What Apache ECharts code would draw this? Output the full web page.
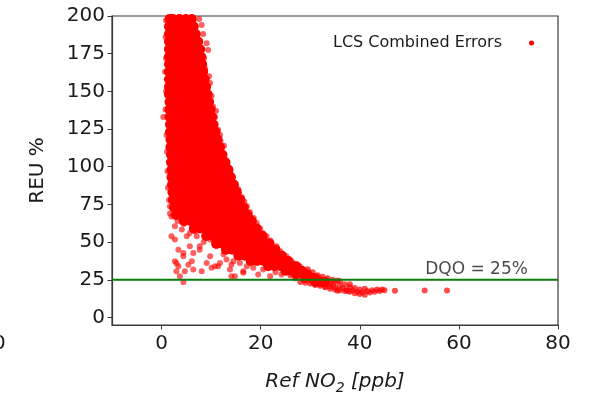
<!DOCTYPE html>
<html>
<head>
<meta charset="utf-8">
<script src="https://cdn.jsdelivr.net/npm/echarts@6/dist/echarts.min.js"></script>
<style>html,body{margin:0;padding:0;background:#fff}#c{width:595px;height:395px}</style>
</head>
<body>
<div id="c"></div>
<script>
const seriesName = 'LCS Combined Errors';
const xTicks = [0, 20, 40, 60, 80];
const yTicks = [0, 25, 50, 75, 100, 125, 150, 175, 200];
const dqoValue = 25;
const dqoLabel = 'DQO = 25%';
const dqoLabelX = 53.2;

// dense core of the cloud: [REU %, [Ref NO2 values]]
const coreRows = [
  [203, [1.6, 2.9, 4.2, 5.5, 5.9]],
  [198, [1.6, 2.3, 3.6, 4.9, 6.1]],
  [193, [1.5, 2.8, 4.1, 5.4, 6.5]],
  [188, [1.5, 2.2, 3.5, 4.8, 6.1, 6.9]],
  [183, [1.5, 2.8, 4.1, 5.4, 6.7, 7.4]],
  [178, [1.5, 2.2, 3.5, 4.8, 6.1, 7.4, 7.8]],
  [173, [1.5, 2.8, 4.1, 5.4, 6.7, 8.0]],
  [168, [1.5, 2.2, 3.5, 4.8, 6.1, 7.4, 8.2]],
  [163, [1.5, 2.8, 4.1, 5.4, 6.7, 8.0, 8.4]],
  [158, [1.5, 2.2, 3.5, 4.8, 6.1, 7.4, 8.7]],
  [153, [1.5, 2.8, 4.1, 5.4, 6.7, 8.0, 9.0]],
  [148, [1.5, 2.2, 3.5, 4.8, 6.1, 7.4, 8.7, 9.3]],
  [143, [1.6, 2.9, 4.2, 5.5, 6.8, 8.1, 9.4, 9.6]],
  [138, [1.6, 2.3, 3.6, 4.9, 6.2, 7.5, 8.8, 9.9]],
  [133, [1.6, 2.9, 4.2, 5.5, 6.8, 8.1, 9.4, 10.2]],
  [128, [1.7, 2.4, 3.7, 5.0, 6.3, 7.6, 8.9, 10.2, 10.5]],
  [123, [1.7, 3.0, 4.3, 5.6, 6.9, 8.2, 9.5, 10.8, 10.9]],
  [118, [1.8, 2.5, 3.8, 5.1, 6.4, 7.7, 9.0, 10.3, 11.3]],
  [113, [1.8, 3.1, 4.4, 5.7, 7.0, 8.3, 9.6, 10.9, 11.8]],
  [108, [1.9, 2.6, 3.9, 5.2, 6.5, 7.8, 9.1, 10.4, 11.7, 12.3]],
  [103, [1.9, 3.2, 4.5, 5.8, 7.1, 8.4, 9.7, 11.0, 12.3, 12.9]],
  [98, [2.0, 2.7, 4.0, 5.3, 6.6, 7.9, 9.2, 10.5, 11.8, 13.1, 13.5]],
  [93, [2.0, 3.3, 4.6, 5.9, 7.2, 8.5, 9.8, 11.1, 12.4, 13.7, 14.0]],
  [88, [2.1, 2.8, 4.1, 5.4, 6.7, 8.0, 9.3, 10.6, 11.9, 13.2, 14.5, 14.6]],
  [83, [2.2, 3.5, 4.8, 6.1, 7.4, 8.7, 10.0, 11.3, 12.6, 13.9, 15.2]],
  [78, [2.3, 3.0, 4.3, 5.6, 6.9, 8.2, 9.5, 10.8, 12.1, 13.4, 14.7, 15.9]],
  [73, [2.5, 3.8, 5.1, 6.4, 7.7, 9.0, 10.3, 11.6, 12.9, 14.2, 15.5, 16.6]],
  [68, [2.9, 3.6, 4.9, 6.2, 7.5, 8.8, 10.1, 11.4, 12.7, 14.0, 15.3, 16.6, 17.4]],
  [64, [4.5, 5.8, 7.1, 8.4, 9.7, 11.0, 12.3, 13.6, 14.9, 16.2, 17.5, 18.2]],
  [59, [6.5, 7.8, 9.1, 10.4, 11.7, 13.0, 14.3, 15.6, 16.9, 18.2, 19.2]],
  [54, [9.0, 10.3, 11.6, 12.9, 14.2, 15.5, 16.8, 18.1, 19.4, 20.4]],
  [49, [11.0, 12.3, 13.6, 14.9, 16.2, 17.5, 18.8, 20.1, 21.4, 21.8]],
  [45, [13.0, 14.3, 15.6, 16.9, 18.2, 19.5, 20.8, 22.1, 23.0]],
  [41, [15.5, 16.8, 18.1, 19.4, 20.7, 22.0, 23.3, 24.3]],
  [37.5, [18.0, 19.3, 20.6, 21.9, 23.2, 24.5, 25.6]],
  [34, [21.5, 22.8, 24.1, 25.4, 26.7, 27.2]],
  [31, [25.0, 26.3, 27.6, 28.3]],
  [28.5, [27.2, 28.5, 29.5]],
  [26, [29.0, 30.3, 31.0]],
  [23.5, [31.0, 32.3, 33.0]]
];

// scattered points around the edges of the cloud: [Ref NO2, REU %]
const edgePoints = [
  [8.1,194],[9.1,182],[9.4,177.5],[8.8,165],[9.8,155.6],[9.0,151],[10.4,140],[10.8,133],[11.4,124.5],
  [11.8,121],[12.6,114],[12.5,107],[13.5,100],[14.8,89],[16.2,80],[17.2,73.7],[19.2,62.7],[21.2,53.8],
  [23.2,47.2],[25.2,40.6],[27.9,34],[30.6,27.4],[34.6,21.9],[37.3,18.5],[7.6,198],[8.4,188],[8.6,172],
  [9.6,160],[10.1,147],[11.0,137],[11.9,117],[13.0,104],[13.9,96],[14.3,93],[15.5,85],[16.7,77],
  [17.8,70],[18.6,66],[19.9,59],[20.4,56],[22.0,51],[24.0,44],[26.3,37],[29.0,31],[31.8,26],[33.0,24.5],
  [0.9,197],[0.8,186],[0.9,172],[0.7,163],[0.9,150],[0.35,133],[0.8,138],[1.0,121],[1.1,110],[1.2,97],
  [1.3,86],[1.5,78],[1.7,73.7],[1.7,69],[2.0,67],
  [2.7,51.7],[3.4,45],[3.0,36],[3.7,27.4],[4.4,23.4],[5.4,35],[6.4,42.8],[7.7,45],[8.1,30.7],[9.8,40.6],
  [10.8,34],[11.1,47.2],[14.1,27.4],[14.8,27.4],[16.5,29.6],[19.5,28.5],[20.5,31.8],[21.9,27.4],[14.1,35],
  [13.1,38.4],[7.1,53.8],[5.1,53.8],[4.1,58.3],[2.7,60.5],[2.0,53.8],[2.7,37.3],[3.0,30.7],[4.7,30.7],
  [6.1,37.3],[10.1,32.9],[11.4,34],[13.8,31.8],[7.7,47.2],[9.8,51.7],[4.4,42.8],[5.7,56.1],[5.7,47.2],
  [4.4,40.6],[3.4,34],[6.4,31.8],[9.1,36.2],[11.8,36.2],[15.8,36.2],[17.2,34],[24.2,28.5],[14.5,37.3],
  [16.5,30.7],[7.7,60.5],[9.1,58.3],[3.2,64],[4.5,62],[6.8,57],[8.5,50],[12.5,42],[18.5,33],[23.0,30]
];

// thin tail of the cloud at high concentrations
const tailPoints = [
  [33,24],[34,22.5],[35,23.5],[36,21],[36.5,19.5],[37,22],[38,20],[38.5,18],[39,19.5],[39.5,17],
  [40,18.5],[40.5,16.5],[41,19],[41.5,17.5],[42,16.5],[42.5,18],[43,17],[43.5,18.5],[44,17.5],[44.5,18.5],
  [45,18],[40,15.5],[39,16],[37.5,17.5],[35,20],[34,20.5],[32,22],[33,20.5],[31,24],[30,25.5],[29,27],
  [36,24],[38,22],[35.5,17.8],[41,15],[47.1,17.8],[53.1,17.9],[57.6,17.9],
  [28,23.5],[29,23],[30,22.5],[31,21.5],[32,21],[33,20],[34,19],[35,18.5],[36,18],[37,17.5],[38,17],
  [30.5,30],[29.5,32],[31.5,28],[32.5,27],[33.5,26],[34.5,25],[35.5,24.5],[27,26],[26,28],[28.5,25.5]
];

const corePoints = coreRows.flatMap(([y, xs]) => xs.map(x => [x, y]));
const font = 'DejaVu Sans';
const txt = '#1a1a1a';
const axisColor = '#3a3a3a';

const chart = echarts.init(document.getElementById('c'), null, {renderer: 'canvas'});
chart.setOption({
  animation: false,
  backgroundColor: '#fff',
  textStyle: {fontFamily: font},
  grid: {left: 112, right: 37, top: 16, bottom: 70, containLabel: false, outerBoundsMode: 'none',
         show: true, borderColor: axisColor, borderWidth: 1.2},
  legend: {
    data: [seriesName], right: 56, top: 30, align: 'right',
    itemWidth: 5, itemHeight: 5, icon: 'circle',
    textStyle: {fontSize: 16, color: txt, fontFamily: font, padding: [0, 22, 0, 0]}
  },
  xAxis: {
    type: 'value', min: -10, max: 80,
    name: '{a|Ref NO}{b|2}{a| [ppb]}', nameLocation: 'middle', nameGap: 44,
    nameTextStyle: {rich: {
      a: {fontSize: 20, fontStyle: 'italic', fontFamily: font, color: txt, lineHeight: 26},
      b: {fontSize: 14, fontStyle: 'italic', fontFamily: font, color: txt, lineHeight: 14, verticalAlign: 'bottom'}
    }},
    axisLine: {show: true, onZero: false, lineStyle: {color: axisColor, width: 1.2}},
    axisTick: {show: true, length: 4.5, customValues: xTicks, lineStyle: {color: axisColor}},
    axisLabel: {customValues: xTicks, fontSize: 20, color: txt, fontFamily: font, margin: 9},
    splitLine: {show: false}
  },
  yAxis: {
    type: 'value', min: -5, max: 200,
    name: 'REU %', nameLocation: 'middle', nameGap: 64, nameRotate: 90,
    nameTextStyle: {fontSize: 20, color: txt, fontFamily: font},
    axisLine: {show: true, onZero: false, lineStyle: {color: axisColor, width: 1.2}},
    axisTick: {show: true, length: 4.5, customValues: yTicks, lineStyle: {color: axisColor}},
    axisLabel: {customValues: yTicks, fontSize: 20, color: txt, fontFamily: font, margin: 7},
    splitLine: {show: false}
  },
  series: [
    {name: seriesName, type: 'scatter', data: corePoints, symbolSize: 10,
     itemStyle: {color: '#ff0000', opacity: 1}, clip: true, silent: true},
    {name: seriesName, type: 'scatter', data: edgePoints, symbolSize: 6,
     itemStyle: {color: '#ff0000', opacity: 0.62}, clip: true, silent: true},
    {name: seriesName, type: 'scatter', data: tailPoints, symbolSize: 6,
     itemStyle: {color: '#ff0000', opacity: 0.7}, clip: true, silent: true},
    {name: 'DQO', type: 'line', data: [[-10, dqoValue], [80, dqoValue]], showSymbol: false, symbol: 'none',
     lineStyle: {color: '#0a7d0a', width: 2}, silent: true, z: 5},
    {name: 'DQO label', type: 'scatter', data: [[dqoLabelX, dqoValue]], symbolSize: 0, silent: true,
     label: {show: true, formatter: dqoLabel, position: [0, -19], align: 'left', verticalAlign: 'top',
             fontSize: 17, color: txt, fontFamily: font}}
  ],
  graphic: [
    {type: 'text', x: -7, y: 334, style: {text: '0', fontSize: 20, fontFamily: font, fill: txt}}
  ]
});
</script>
</body>
</html>
